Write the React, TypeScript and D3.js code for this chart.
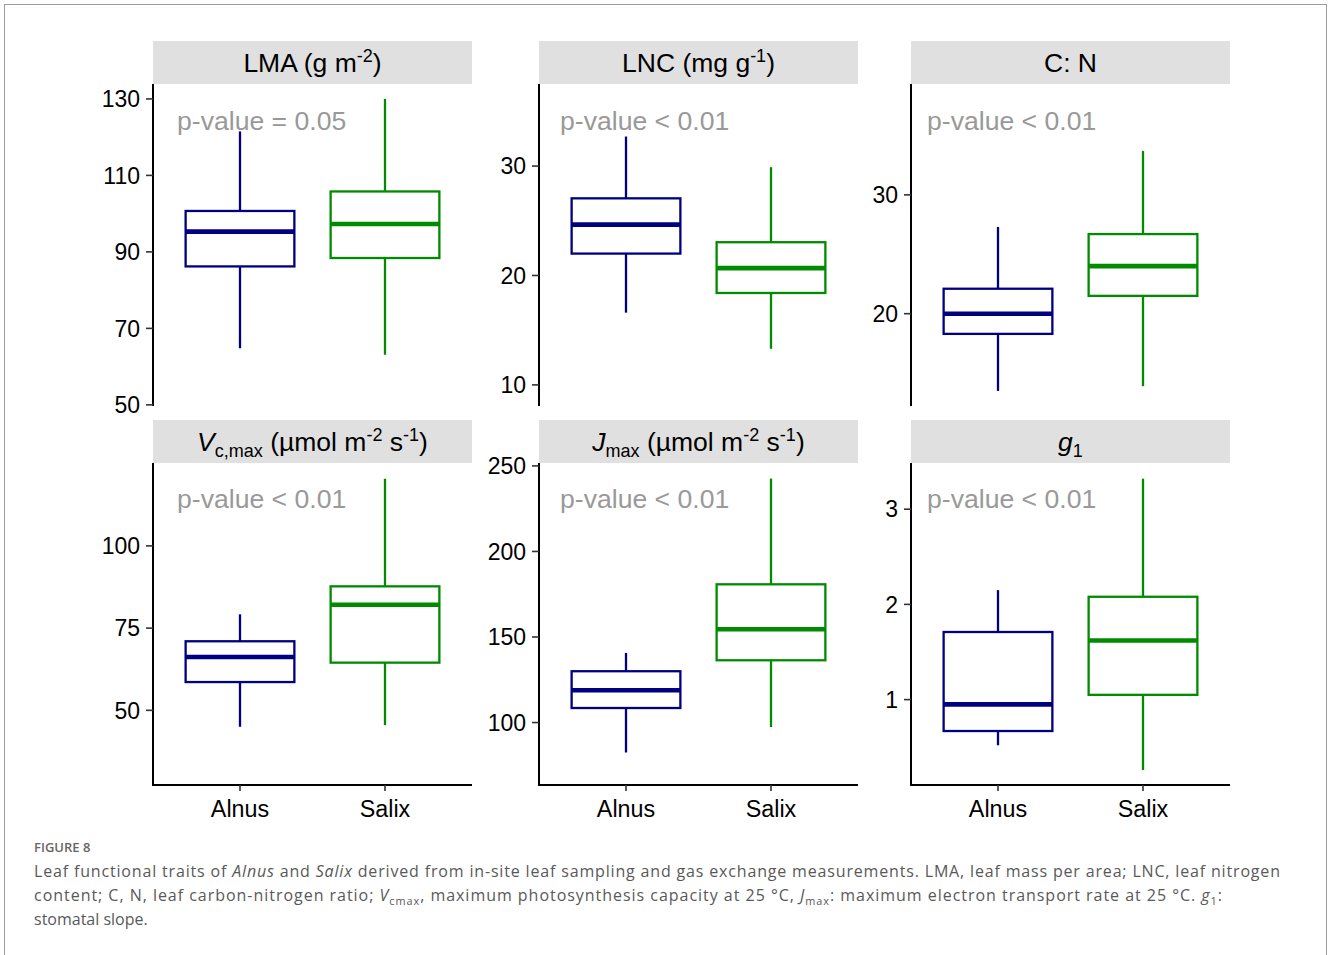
import React from "react";
import * as d3 from "d3";

// groups shown on every panel
const groups = ["Alnus", "Salix"];

// five-number summaries: lower whisker, Q1, median, Q3, upper whisker
const lmaAlnus = [64.8, 86.2, 95.3, 100.7, 121.5];
const lmaSalix = [63.1, 88.4, 97.3, 105.8, 130];
const lncAlnus = [16.6, 22.0, 24.65, 27.05, 32.7];
const lncSalix = [13.3, 18.4, 20.67, 23.04, 29.9];
const cnAlnus = [13.5, 18.3, 20.0, 22.1, 27.3];
const cnSalix = [13.9, 21.5, 24.0, 26.7, 33.7];
const vcmaxAlnus = [45.0, 58.6, 66.2, 71.0, 79.2];
const vcmaxSalix = [45.5, 64.5, 82.1, 87.7, 120.4];
const jmaxAlnus = [82.5, 108.5, 118.9, 130.0, 140.7];
const jmaxSalix = [97.4, 136.4, 154.5, 180.8, 242.6];
const g1Alnus = [0.52, 0.67, 0.95, 1.71, 2.15];
const g1Salix = [0.26, 1.05, 1.62, 2.08, 3.32];

// y limits and ticks per panel
const yDomains = [
  [49.7, 133.9],
  [8.07, 37.5],
  [12.23, 39.33],
  [27.3, 125.2],
  [63.5, 251.7],
  [0.103, 3.485],
];
const yTicks = [
  [50, 70, 90, 110, 130],
  [10, 20, 30],
  [20, 30],
  [50, 75, 100],
  [100, 150, 200, 250],
  [1, 2, 3],
];

const pLabels = [
  "p-value = 0.05",
  "p-value < 0.01",
  "p-value < 0.01",
  "p-value < 0.01",
  "p-value < 0.01",
  "p-value < 0.01",
];

type Seg = { t: string; k?: "sup" | "sub" | "i" };
const titles: Seg[][] = [
  [{ t: "LMA (g m" }, { t: "-2", k: "sup" }, { t: ")" }],
  [{ t: "LNC (mg g" }, { t: "-1", k: "sup" }, { t: ")" }],
  [{ t: "C: N" }],
  [{ t: "V", k: "i" }, { t: "c,max", k: "sub" }, { t: " (µmol m" }, { t: "-2", k: "sup" }, { t: " s" }, { t: "-1", k: "sup" }, { t: ")" }],
  [{ t: "J", k: "i" }, { t: "max", k: "sub" }, { t: " (µmol m" }, { t: "-2", k: "sup" }, { t: " s" }, { t: "-1", k: "sup" }, { t: ")" }],
  [{ t: "g", k: "i" }, { t: "1", k: "sub" }],
];

const stats = [
  [lmaAlnus, lmaSalix],
  [lncAlnus, lncSalix],
  [cnAlnus, cnSalix],
  [vcmaxAlnus, vcmaxSalix],
  [jmaxAlnus, jmaxSalix],
  [g1Alnus, g1Salix],
];

const colors = ["#000080", "#008B00"];

// layout
const colX = [153, 539, 911];
const rowY = [41, 420];
const panelW = 319;
const stripH = 43;
const plotH = 322;
const pOffset = [24, 21, 16];
const font = "'Liberation Sans', Arial, sans-serif";

function RichText({ segs, x, y, size, anchor, fill, fam, textLength }: any) {
  let cur = 0;
  const out: any[] = [];
  segs.forEach((s: Seg, i: number) => {
    const target = s.k === "sup" ? -size * 0.36 : s.k === "sub" ? size * 0.25 : 0;
    const dy = target - cur;
    cur = target;
    out.push(
      <tspan
        key={i}
        dy={dy}
        fontSize={s.k === "sup" || s.k === "sub" ? size * 0.68 : size}
        fontStyle={s.k === "i" ? "italic" : "normal"}
      >
        {s.t}
      </tspan>
    );
  });
  return (
    <text
      x={x}
      y={y}
      textAnchor={anchor}
      fill={fill}
      fontFamily={fam}
      fontSize={size}
      textLength={textLength}
      lengthAdjust={textLength ? "spacing" : undefined}
    >
      {out}
    </text>
  );
}

function Panel({ idx }: { idx: number }) {
  const col = idx % 3;
  const row = Math.floor(idx / 3);
  const x0 = colX[col];
  const top = rowY[row] + stripH;
  const y = d3.scaleLinear().domain(yDomains[idx]).range([top + plotH, top]);
  const x = d3.scalePoint().domain(groups).range([x0, x0 + panelW]).padding(0.6);
  const bw = x.step() * 0.75;

  return (
    <g>
      <rect x={x0} y={rowY[row]} width={panelW} height={stripH} fill="#E0E0E0" />
      <RichText segs={titles[idx]} x={x0 + panelW / 2} y={rowY[row] + 30.5} size={26.5} anchor="middle" fill="#000" fam={font} />

      {stats[idx].map((s, gi) => {
        const cx = x(groups[gi])!;
        const c = colors[gi];
        return (
          <g key={gi}>
            <line x1={cx} x2={cx} y1={y(s[0])} y2={y(s[1])} stroke={c} strokeWidth={2.3} />
            <line x1={cx} x2={cx} y1={y(s[3])} y2={y(s[4])} stroke={c} strokeWidth={2.3} />
            <rect x={cx - bw / 2} y={y(s[3])} width={bw} height={y(s[1]) - y(s[3])} fill="#fff" stroke={c} strokeWidth={2.3} />
            <line x1={cx - bw / 2} x2={cx + bw / 2} y1={y(s[2])} y2={y(s[2])} stroke={c} strokeWidth={4.6} />
          </g>
        );
      })}

      <text x={x0 + pOffset[col]} y={top + (row === 0 ? 45.5 : 44.5)} fontFamily={font} fontSize={26.6} fill="#999999">
        {pLabels[idx]}
      </text>

      {/* y axis */}
      <line x1={x0} x2={x0} y1={top} y2={top + plotH + (row === 1 ? 1 : 0)} stroke="#000" strokeWidth={2} />
      {yTicks[idx].map((t) => (
        <g key={t}>
          <line x1={x0 - 7} x2={x0} y1={y(t)} y2={y(t)} stroke="#333" strokeWidth={1.6} />
          <text x={x0 - 13} y={y(t)} dy="0.36em" textAnchor="end" fontFamily={font} fontSize={23} fill="#000">
            {t}
          </text>
        </g>
      ))}

      {/* x axis on bottom row only */}
      {row === 1 && (
        <g>
          <line x1={x0 - 1} x2={x0 + panelW} y1={top + plotH} y2={top + plotH} stroke="#000" strokeWidth={2} />
          {groups.map((g) => (
            <g key={g}>
              <line x1={x(g)} x2={x(g)} y1={top + plotH} y2={top + plotH + 6} stroke="#333" strokeWidth={1.6} />
              <text x={x(g)} y={top + plotH + 31.5} textAnchor="middle" fontFamily={font} fontSize={23.3} fill="#000">
                {g}
              </text>
            </g>
          ))}
        </g>
      )}
    </g>
  );
}

const capFont = "'Open Sans', 'Noto Sans', sans-serif";
const captionLines: Seg[][] = [
  [
    { t: "Leaf functional traits of " },
    { t: "Alnus", k: "i" },
    { t: " and " },
    { t: "Salix", k: "i" },
    { t: " derived from in-site leaf sampling and gas exchange measurements. LMA, leaf mass per area; LNC, leaf nitrogen" },
  ],
  [
    { t: "content; C, N, leaf carbon-nitrogen ratio; " },
    { t: "V", k: "i" },
    { t: "cmax", k: "sub" },
    { t: ", maximum photosynthesis capacity at 25 °C, " },
    { t: "J", k: "i" },
    { t: "max", k: "sub" },
    { t: ": maximum electron transport rate at 25 °C. " },
    { t: "g", k: "i" },
    { t: "1", k: "sub" },
    { t: ":" },
  ],
  [{ t: "stomatal slope." }],
];
const captionWidths = [1246, 1188, undefined];

export default function App() {
  return (
    <svg width={1328} height={955} style={{ position: "absolute", left: 0, top: 0, background: "#fff" }}>
      <rect x={4.5} y={4.5} width={1322} height={960} fill="#fff" stroke="#9c9c9c" strokeWidth={1} />
      {d3.range(6).map((i) => (
        <Panel key={i} idx={i} />
      ))}
      <text x={34} y={852} fontFamily={capFont} fontSize={13} fontWeight={600} fill="#666">
        FIGURE 8
      </text>
      {captionLines.map((segs, i) => (
        <RichText
          key={i}
          segs={segs}
          x={34}
          y={877 + i * 24}
          size={16}
          anchor="start"
          fill="#595959"
          fam={capFont}
          textLength={captionWidths[i]}
        />
      ))}
    </svg>
  );
}
